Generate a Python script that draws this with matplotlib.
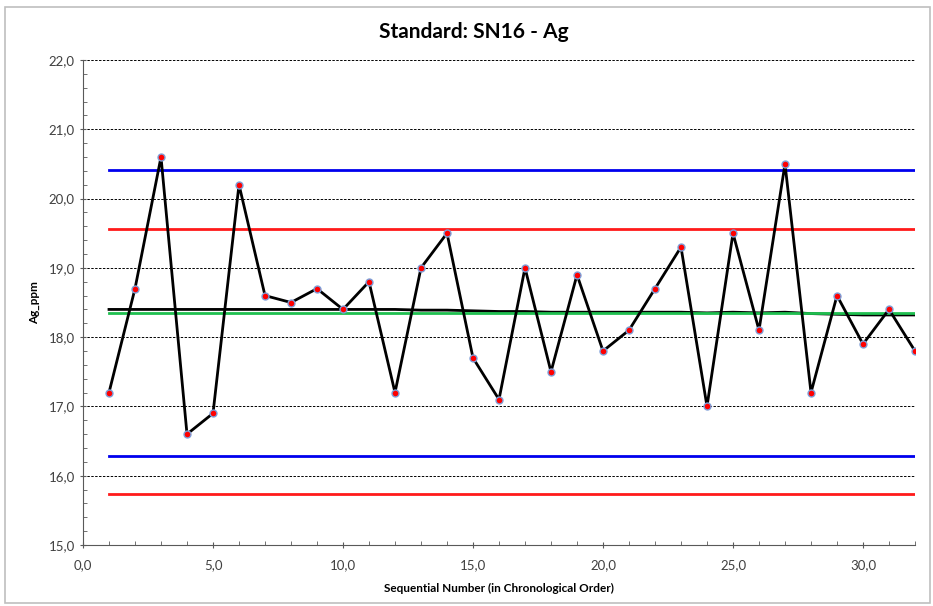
import matplotlib
matplotlib.use("Agg")
import matplotlib.pyplot as plt
from matplotlib.ticker import MultipleLocator, FuncFormatter
from matplotlib.patches import Rectangle

seq = list(range(1, 33))
ag_ppm = [17.2, 18.7, 20.6, 16.6, 16.9, 20.2, 18.6, 18.5, 18.7, 18.4,
          18.8, 17.2, 19.0, 19.5, 17.7, 17.1, 19.0, 17.5, 18.9, 17.8,
          18.1, 18.7, 19.3, 17.0, 19.5, 18.1, 20.5, 17.2, 18.6, 17.9,
          18.4, 17.8]
running_mean = [18.40, 18.40, 18.40, 18.40, 18.40, 18.40, 18.40, 18.40, 18.40, 18.40,
                18.40, 18.40, 18.39, 18.39, 18.38, 18.37, 18.37, 18.36, 18.36, 18.36,
                18.36, 18.36, 18.36, 18.35, 18.36, 18.35, 18.36, 18.34, 18.33, 18.32,
                18.32, 18.32]
certified_value = 18.345
upper_blue = 20.41
lower_blue = 16.28
upper_red = 19.56
lower_red = 15.73

title = "Standard: SN16 - Ag"
xlabel = "Sequential Number (in Chronological Order)"
ylabel = "Ag_ppm"

plt.rcParams['font.family'] = ['Lato', 'DejaVu Sans']

fig = plt.figure(figsize=(9.33, 6.06), dpi=100)
ax = fig.add_axes([83/933, 1-545/606, (915-83)/933, (545-60)/606])

# outer chart border
fig.patches.append(Rectangle((5/933, 1-603/606), 925/933, (603-7)/606,
                             transform=fig.transFigure, fill=False,
                             edgecolor='#bfbfbf', linewidth=1.2))

ax.set_xlim(0, 32)
ax.set_ylim(15, 22)

for yv in range(15, 23):
    ax.axhline(yv, color='black', linestyle=(0, (2.5, 1.5)), linewidth=0.7, zorder=1)

n = len(seq)
ax.plot(seq, [upper_blue]*n, color='#0000ee', linewidth=2, zorder=2)
ax.plot(seq, [lower_blue]*n, color='#0000ee', linewidth=2, zorder=2)
ax.plot(seq, [upper_red]*n, color='#ff1a1a', linewidth=2, zorder=2)
ax.plot(seq, [lower_red]*n, color='#ff1a1a', linewidth=2, zorder=2)
ax.plot(seq, running_mean, color='black', linewidth=2, zorder=3)
ax.plot(seq, [certified_value]*n, color='#1fbf4f', linewidth=2, zorder=3)
ax.plot(seq, ag_ppm, color='black', linewidth=2, zorder=4,
        marker='o', markersize=5, markerfacecolor='#ff0000',
        markeredgecolor='#7f9fd8', markeredgewidth=1)

for s in ['top', 'right']:
    ax.spines[s].set_visible(False)
ax.spines['left'].set_color('#595959')
ax.spines['bottom'].set_color('#595959')

ax.xaxis.set_major_locator(MultipleLocator(5))
ax.xaxis.set_minor_locator(MultipleLocator(1))
ax.yaxis.set_major_locator(MultipleLocator(1))
ax.yaxis.set_minor_locator(MultipleLocator(0.2))
fmt = FuncFormatter(lambda v, p: f"{v:.1f}".replace('.', ','))
ax.xaxis.set_major_formatter(fmt)
ax.yaxis.set_major_formatter(fmt)
ax.tick_params(axis='both', which='major', length=5, direction='inout',
               color='#595959', labelsize=9.5, labelcolor='#404040')
ax.tick_params(axis='both', which='minor', length=3, direction='in', color='#595959')
ax.tick_params(axis='x', which='major', pad=8)

fig.text(474/933, 1-32/606, title, ha='center', va='center',
         fontsize=15, fontweight='bold', color='black')
ax.set_xlabel(xlabel, fontsize=8.5, fontweight='bold', labelpad=8)
ax.set_ylabel(ylabel, fontsize=8.5, fontweight='bold', labelpad=6)

fig.savefig("out.png", dpi=100)
